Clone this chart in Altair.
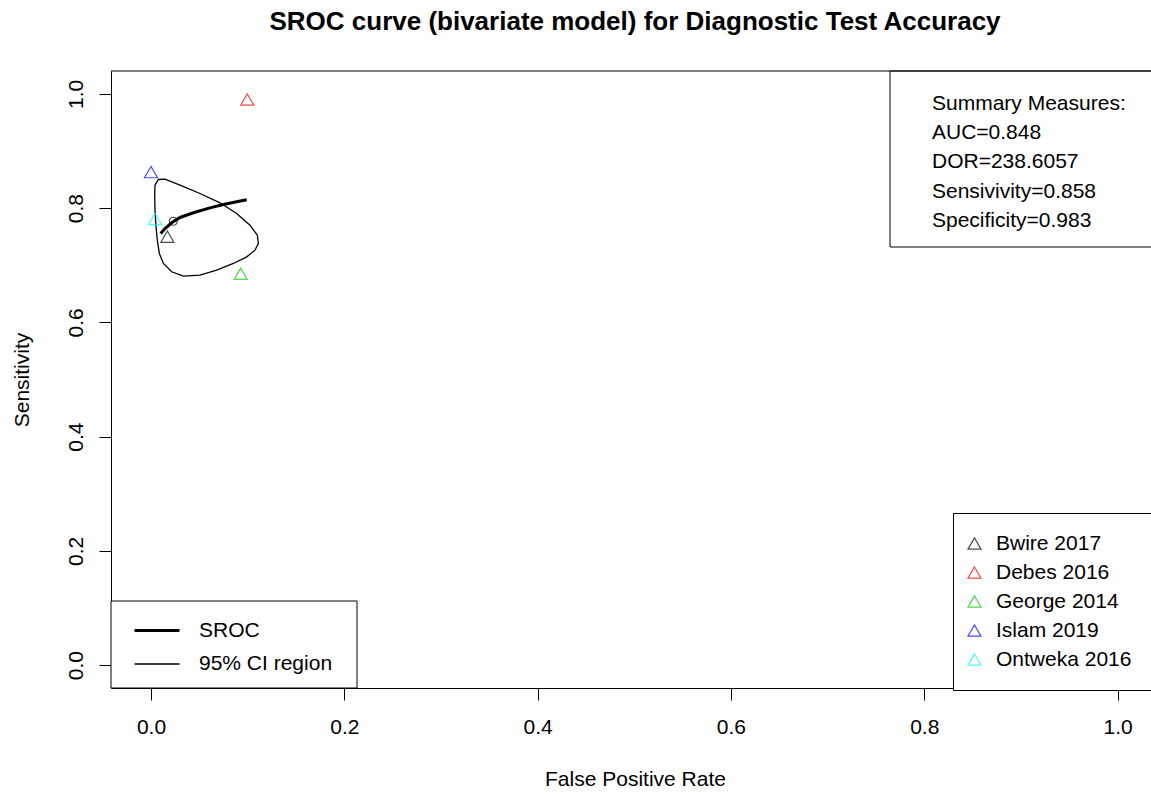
import altair as alt
import pandas as pd

FONT = "Liberation Sans"

# ---- data ----
studies = ["Bwire 2017", "Debes 2016", "George 2014", "Islam 2019", "Ontweka 2016"]
study_colors = ["#000000", "#FF0000", "#00CD00", "#0000FF", "#00FFFF"]
study_fpr = [0.0169, 0.0996, 0.0928, 0.0, 0.0041]
study_sens = [0.750, 0.990, 0.685, 0.863, 0.781]

sroc_fpr = [0.0100, 0.0145, 0.0214, 0.0300, 0.0438, 0.0610, 0.0748, 0.0886, 0.0990]
sroc_sens = [0.7556, 0.7643, 0.7743, 0.7836, 0.7918, 0.8005, 0.8063, 0.8110, 0.8145]

ci_fpr = [0.0041, 0.0076, 0.0145, 0.0300, 0.0507, 0.0714, 0.0886, 0.1024, 0.1100,
          0.1111, 0.1076, 0.0990, 0.0852, 0.0679, 0.0507, 0.0335, 0.0214, 0.0128,
          0.0086, 0.0065, 0.0052, 0.0041, 0.0038, 0.0041]
ci_sens = [0.8402, 0.8501, 0.8507, 0.8402, 0.8256, 0.8093, 0.7906, 0.7702, 0.7527,
           0.7381, 0.7264, 0.7147, 0.7031, 0.6914, 0.6827, 0.6809, 0.6885, 0.7031,
           0.7206, 0.7439, 0.7672, 0.7964, 0.8256, 0.8402]

summary_fpr = [0.0231]
summary_sens = [0.777]

summary_lines = ["Summary Measures:", "AUC=0.848", "DOR=238.6057",
                 "Sensivivity=0.858", "Specificity=0.983"]
line_kinds = ["SROC", "95% CI region"]
tick_values = [0.0, 0.2, 0.4, 0.6, 0.8, 1.0]

title_text = "SROC curve (bivariate model) for Diagnostic Test Accuracy"
x_title = "False Positive Rate"
y_title = "Sensitivity"

# ---- tables ----
pts = pd.DataFrame({"study": studies, "fpr": study_fpr, "sens": study_sens})
curves = pd.concat([
    pd.DataFrame({"kind": line_kinds[0], "ord": range(len(sroc_fpr)),
                  "fpr": sroc_fpr, "sens": sroc_sens}),
    pd.DataFrame({"kind": line_kinds[1], "ord": range(len(ci_fpr)),
                  "fpr": ci_fpr, "sens": ci_sens}),
], ignore_index=True)
summ = pd.DataFrame({"fpr": summary_fpr, "sens": summary_sens})
box_text = pd.DataFrame({"t": ["\n".join(summary_lines)]})
dummy = pd.DataFrame({"d": [0]})

W, H = 1040, 617

xscale = alt.Scale(domain=[-0.0414, 1.0346], nice=False, zero=False)
yscale = alt.Scale(domain=[-0.04, 1.04], nice=False, zero=False)

xaxis = alt.Axis(values=tick_values, format=".1f", tickSize=12, labelPadding=16,
                 title=x_title, titleX=524, titleY=91, titleAlign="center",
                 titleBaseline="middle", grid=False, labelFlush=False)
yaxis = alt.Axis(values=tick_values, format=".1f", tickSize=12, labelPadding=12.5,
                 labelAngle=270, labelAlign="center", labelBaseline="bottom",
                 title=y_title, titleX=-89, titleY=H / 2, titleAngle=270,
                 titleAlign="center", titleBaseline="middle", grid=False)

X = alt.X("fpr:Q", scale=xscale, axis=xaxis)
Y = alt.Y("sens:Q", scale=yscale, axis=yaxis)

# summary box and frame pieces
box = alt.Chart(dummy).mark_rect(fill="white", stroke="black", strokeWidth=1).encode(
    x=alt.value(779), x2=alt.value(W + 6), y=alt.value(0), y2=alt.value(176))
line_legend_box = alt.Chart(dummy).mark_rect(fill="white", stroke="black",
                                             strokeWidth=1).encode(
    x=alt.value(0), x2=alt.value(246), y=alt.value(530), y2=alt.value(H))
top_rule = alt.Chart(dummy).mark_rule(color="black", strokeWidth=1).encode(
    x=alt.value(0), x2=alt.value(W + 6), y=alt.value(0))
txt = alt.Chart(box_text).mark_text(
    align="left", baseline="alphabetic", lineBreak="\n", lineHeight=29.2,
    fontSize=21, font=FONT, color="black").encode(
    x=alt.value(821), y=alt.value(39), text="t:N")

lines = alt.Chart(curves).mark_line(color="black").encode(
    x=X, y=Y, order=alt.Order("ord:Q"), detail="kind:N",
    strokeWidth=alt.StrokeWidth(
        "kind:N", title=None,
        scale=alt.Scale(domain=line_kinds, range=[3, 1.3]),
        legend=alt.Legend(orient="none", legendX=0, legendY=528,
                          symbolType="stroke", symbolSize=2025,
                          symbolStrokeColor="black", padding=7.5, rowPadding=0,
                          symbolOffset=14.5,
                          labelOffset=18, labelFontSize=21, labelFont=FONT,
                          labelColor="black")))

points = alt.Chart(pts).mark_point(shape="triangle-up", filled=False, size=170,
                                   strokeWidth=1.2).encode(
    x=X, y=Y,
    color=alt.Color("study:N", title=None,
                    scale=alt.Scale(domain=studies, range=study_colors),
                    legend=alt.Legend(orient="none", legendX=842, legendY=442,
                                      symbolType="triangle-up", symbolSize=170,
                                      symbolStrokeWidth=1.2, padding=20,
                                      symbolOffset=-9,
                                      rowPadding=7, labelOffset=11,
                                      labelFontSize=21, labelFont=FONT,
                                      labelColor="black", fillColor="white",
                                      strokeColor="black", cornerRadius=0)))

center = alt.Chart(summ).mark_point(shape="circle", filled=False, size=64,
                                    color="black", strokeWidth=1.2).encode(x=X, y=Y)

chart = alt.layer(box, line_legend_box, top_rule, txt, lines, points, center).properties(
    width=W, height=H,
    autosize=alt.AutoSizeParams(type="none"),
    padding={"left": 111, "top": 71, "right": 0, "bottom": 107},
    title=alt.TitleParams(title_text, fontSize=26, fontWeight="bold", font=FONT,
                          anchor="middle", frame="group", offset=36, dx=4,
                          color="black"),
    background="white",
).configure_view(strokeWidth=0).configure_axis(
    labelFont=FONT, labelFontSize=21, labelColor="black",
    titleFont=FONT, titleFontSize=21, titleFontWeight="normal", titleColor="black",
    tickColor="black", domainColor="black", tickWidth=1, domainWidth=1,
)

chart.save("out.html", embed_options={"renderer": "svg", "actions": False})
